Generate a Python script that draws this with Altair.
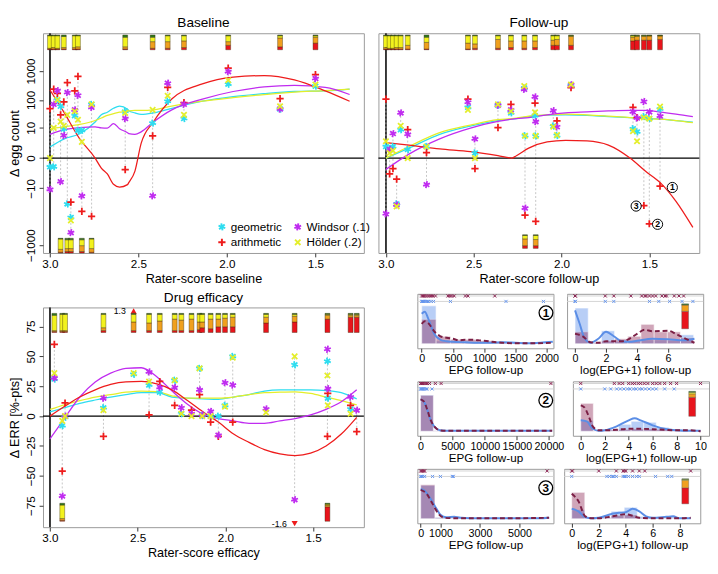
import altair as alt
import pandas as pd

FONT = "Liberation Sans"

METHODS = ["geometric", "arithmetic", "Windsor (.1)", "Hölder (.2)"]
METHOD_COLORS = ["#2EDDF0", "#EE1C1C", "#C02CF0", "#E4EE2A"]
SHAPE_GEO = "M-0.94,-0.34L0.94,0.34M-0.17,-0.98L0.17,0.98M0.77,-0.64L-0.77,0.64"
SHAPE_WIN = "M-0.77,-0.64L0.77,0.64M0.17,-0.98L-0.17,0.98M0.94,-0.34L-0.94,0.34"
SHAPE_ARI = "M-1,0L1,0M0,-1L0,1"
SHAPE_HOL = "M-0.75,-0.75L0.75,0.75M-0.75,0.75L0.75,-0.75"
METHOD_SHAPES = [SHAPE_GEO, SHAPE_ARI, SHAPE_WIN, SHAPE_HOL]
BAR_COLORS = ["#E8141C", "#F0A01E", "#F2F21E", "#2E7D1E"]
X_TICKS = [3.0, 2.5, 2.0, 1.5]
VLINE_X = [3.0]
ZERO_Y = [0]

# ---------------- Baseline ----------------
base_x = [3.000, 2.979, 2.958, 2.940, 2.922, 2.902, 2.882, 2.860, 2.842, 2.820, 2.765,
          2.575, 2.420, 2.335, 2.243, 1.993, 1.700, 1.500]
base_geo = [-1, -1, 100, 60, 9, -37, -110, 28, 8, 8, 70, 40, 15, 90, 22, 350, 48, 300]
base_ari = [50, 235, 170, 30, 85, 400, -32, 205, 650, -67, -100, -1.5, 4.8, 270, 80, 1250, 110, 750]
base_win = [-11, 70, 210, -5.5, 5, 180, -370, 45, 145, -19, 55, 22, -19, 380, 70, 950, 48, 550]
base_hol = [0, 10, 100, 17, 12, 30, -140, 40, 20, 2.6, 70, 35, 45, 140, 30, 480, 60, 340]

base_cx = [3.000, 2.919, 2.832, 2.745, 2.710, 2.676, 2.641, 2.607, 2.562, 2.555, 2.520, 2.485,
           2.416, 2.312, 2.139, 1.965, 1.790, 1.619, 1.445, 1.307]
base_c_ari = [221, 35, 3.6, 0, -1.2, -2.5, -7, -9, -7.2, -6, -1.8, 2.2, 16.5, 107, 360, 615, 694, 494, 206, 90]
base_c_geo = [1.4, 3.6, 5.9, 16.5, 30, 37, 51, 61, 47, 42, 35, 31, 35, 51, 90, 130, 165, 196, 206, 238]
base_c_hol = [9.3, 11, 13.4, 18.7, 23, 28.8, 33, 37, 40, 41, 43, 43, 45, 61, 90, 120, 154, 187, 211, 238]
base_c_win = [5.6, 8.5, 10.3, 11, 10, 9.8, 14.5, 9.3, 6.5, 6.0, 5.6, 7, 16.5, 45, 107, 196, 283, 319, 270, 154]

base_top_x = [3.000, 2.979, 2.958, 2.922, 2.860, 2.842, 2.575, 2.420, 2.335, 2.243, 1.993, 1.700, 1.500]
base_top_red = [0.05, 0.05, 0.05, 0.05, 0.05, 0.05, 0.05, 0.1, 0.1, 0.15, 0.3, 0.2, 0.45]
base_top_orange = [0.05, 0.1, 0.05, 0.1, 0.1, 0.15, 0.15, 0.45, 0.45, 0.45, 0.25, 0.6, 0.4]
base_top_yellow = [0.85, 0.8, 0.85, 0.75, 0.8, 0.75, 0.65, 0.3, 0.4, 0.35, 0.4, 0.15, 0.1]
base_top_green = [0.05, 0.05, 0.05, 0.1, 0.05, 0.05, 0.15, 0.15, 0.05, 0.05, 0.05, 0.05, 0.05]
base_bot_x = [2.940, 2.902, 2.882, 2.820, 2.765]
base_bot_red = [0.05, 0.1, 0.1, 0.1, 0.05]
base_bot_orange = [0.2, 0.2, 0.2, 0.4, 0.25]
base_bot_yellow = [0.7, 0.6, 0.6, 0.4, 0.65]
base_bot_green = [0.05, 0.1, 0.1, 0.1, 0.05]

# ---------------- Follow-up ----------------
fu_x = [3.000, 2.979, 2.960, 2.939, 2.916, 2.876, 2.769, 2.533, 2.493, 2.362, 2.288,
        2.212, 2.208, 2.151, 2.147, 2.047, 2.026, 1.946, 1.593, 1.570, 1.531, 1.500, 1.439]
fu_geo = [1.5, 1.1, 1.5, -37, 8.5, 0.97, 1.5, 55, 0.5, 65, 35, 260, 4.9, 28, 4.8, 11.7, 5, 320, 9.3, 7, 26, 22, 48]
fu_ari = [107, -2.5, -1.3, -4.3, None, 8.5, 0.55, 107, -1.3, 10.2, 70, None, -92, 78, -150, None, 18, 265, 55, 24, -42, -182, -8.3]
fu_win = [-82, 1.0, 6, -40, 35, 5.6, -7.2, 83, 3.6, 65, 45, 232, -52, 127, 17, 42, 11, 335, 38, 23, 88, 38, 27]
fu_hol = [2.8, 0.5, 0.8, -45, 12, 0, 1.5, 45, 0, 70, 40, 300, 4.9, 37, 4.8, 11, 5.2, 340, 7.5, 2.8, 24, 22, 58]

fu_cx = [3.000, 2.869, 2.694, 2.519, 2.362, 2.283, 2.257, 2.187, 2.082, 1.977, 1.855,
         1.733, 1.610, 1.523, 1.435, 1.348, 1.252]
fu_c_ari = [2.4, 1.8, 1.07, 0.66, 0.21, 0, 0.21, 1.2, 2.6, 3.1, 2.9, 1.8, 0, -1.8, -6.3, -30, -244]
fu_c_geo = [0, 1.2, 5.6, 11.7, 18.7, 21, 22, 26, 29.5, 30, 28.8, 26, 24, 22.3, 21, 18.7, 16.5]
fu_c_hol = [0, 1.5, 6.5, 12.7, 20, 22, 23, 27, 30, 32, 30, 27, 24, 22, 21, 18.7, 15.6]
fu_c_win = [-1.45, 0.37, 3.6, 9.8, 17.3, 21, 22, 24, 30, 35, 38, 41, 43, 43, 37, 32, 26]

fu_top_x = [3.000, 2.979, 2.960, 2.939, 2.916, 2.876, 2.769, 2.533, 2.493, 2.362, 2.288,
            2.212, 2.151, 2.047, 2.026, 1.946, 1.593, 1.570, 1.531, 1.500, 1.439]
fu_top_red = [0.05, 0.05, 0.05, 0.05, 0.05, 0.05, 0.05, 0.05, 0.1, 0.1, 0.15, 0.1, 0.15, 0.3, 0.3, 0.3, 0.6, 0.65, 0.65, 0.65, 0.7]
fu_top_orange = [0.1, 0.05, 0.05, 0.1, 0.1, 0.25, 0.45, 0.4, 0.3, 0.6, 0.45, 0.5, 0.45, 0.35, 0.4, 0.6, 0.25, 0.25, 0.25, 0.3, 0.25]
fu_top_yellow = [0.8, 0.85, 0.85, 0.8, 0.8, 0.65, 0.35, 0.5, 0.55, 0.25, 0.35, 0.35, 0.35, 0.3, 0.25, 0.05, 0.1, 0.05, 0.05, 0.0, 0.0]
fu_top_green = [0.05, 0.05, 0.05, 0.05, 0.05, 0.05, 0.15, 0.05, 0.05, 0.05, 0.05, 0.05, 0.05, 0.05, 0.05, 0.05, 0.05, 0.05, 0.05, 0.05, 0.05]
fu_bot_x = [2.208, 2.147]
fu_bot_red = [0.2, 0.2]
fu_bot_orange = [0.5, 0.45]
fu_bot_yellow = [0.25, 0.3]
fu_bot_green = [0.05, 0.05]

fu_lab_x = [1.369, 1.453, 1.575]
fu_lab_y = [-9.3, -190, -44]
fu_lab_text = ["1", "2", "3"]

# ---------------- Drug efficacy ----------------
de_x = [2.975, 2.930, 2.914, 2.695, 2.523, 2.435, 2.374, 2.289, 2.251, 2.193, 2.147, 2.132,
        2.084, 2.040, 2.002, 1.958, 1.768, 1.605, 1.418, 1.416, 1.286, 1.251]
de_geo = [31, -8, -1, 7, 35, 26, 20, 30, 2, None, 40, 0.5, 0, 0, 9, 50, None, 43, 46, 15, 6, None]
de_ari = [60, -46, 11, -17, None, 1, 29, 9, None, 5, 18, None, -5, -17, None, -5, None, None, -17, 19, 9, -13]
de_win = [32, -67, 0, 15, None, 37, 24, 24, 7, 2, 22, 1, 4, -16, 28, 26, 6, -70, 56, 23, 16, 5]
de_hol = [36, -4, 0, 5, 36, 29, None, 30, 2, 0, 40, 0, 0, None, 8, 49, 3, 50, 34, 9, 2, None]

de_cx = [3.0, 2.918, 2.830, 2.742, 2.654, 2.567, 2.479, 2.391, 2.304, 2.216, 2.128, 2.040,
         1.953, 1.865, 1.777, 1.689, 1.602, 1.514, 1.426, 1.339, 1.251]
de_c_ari = [0, 8, 16, 22, 26.5, 28.6, 29, 27, 22, 13, 3.6, -5, -15, -22, -28, -31.6, -33, -31, -25, -15, -1]
de_c_win = [-19, -2, 16, 28.6, 36, 40, 40.5, 33, 21, 10, 1.8, -2, -4, -6, -6, -4, -2, 1, 5.6, 12, 22]
de_c_geo = [3.6, 7, 10.7, 13.5, 16, 18, 19.6, 19.6, 16, 15, 14.5, 14, 16, 18, 21, 22, 22, 22, 21.4, 19.6, 14.5]
de_c_hol = [5.6, 9.5, 13, 16, 18, 20, 21, 20.5, 17, 15, 15, 15, 16, 18, 19.6, 20, 20.4, 19, 16, 13, 9.4]

de_top_x = [2.975, 2.930, 2.914, 2.695, 2.523, 2.435, 2.374, 2.289, 2.251, 2.193, 2.147,
            2.132, 2.084, 2.040, 2.002, 1.958, 1.768, 1.605, 1.418, 1.286, 1.251]
de_top_red = [0.05, 0.05, 0.05, 0.1, 0.1, 0.1, 0.1, 0.1, 0.1, 0.1, 0.15, 0.25, 0.2, 0.3, 0.3, 0.3, 0.5, 0.55, 0.7, 0.8, 0.8]
de_top_orange = [0.05, 0.05, 0.05, 0.15, 0.45, 0.4, 0.5, 0.6, 0.55, 0.6, 0.4, 0.3, 0.5, 0.4, 0.45, 0.5, 0.3, 0.3, 0.2, 0.1, 0.1]
de_top_yellow = [0.8, 0.85, 0.85, 0.7, 0.4, 0.45, 0.35, 0.25, 0.3, 0.25, 0.4, 0.4, 0.25, 0.25, 0.2, 0.15, 0.15, 0.1, 0.05, 0.05, 0.05]
de_top_green = [0.1, 0.05, 0.05, 0.05, 0.05, 0.05, 0.05, 0.05, 0.05, 0.05, 0.05, 0.05, 0.05, 0.05, 0.05, 0.05, 0.05, 0.05, 0.05, 0.05, 0.05]
de_bot_x = [2.930, 1.418]
de_bot_red = [0.05, 0.8]
de_bot_orange = [0.1, 0.1]
de_bot_yellow = [0.75, 0.05]
de_bot_green = [0.1, 0.05]

de_up_x = [2.523]
de_up_y = [88]
de_up_label = ["1.3"]
de_dn_x = [1.605]
de_dn_y = [-90]
de_dn_label = ["-1.6"]

# ---------------- small panels ----------------
p1L_bw = 230
p1L_blue = [0.76, 0.06, 0.03, 0.02, 0.02, 0.03, 0.01, 0.01, 0.02]
p1L_maroon = [0.49, 0.15, 0.09, 0.09, 0.06, 0.03, 0.02, 0.01, 0.01]
p1L_db_x = [0, 50, 100, 150, 200, 300, 400, 500, 700, 900, 1100, 1300, 1500, 1700, 1900, 2100]
p1L_db_y = [0.60, 0.64, 0.52, 0.35, 0.2, 0.08, 0.05, 0.04, 0.03, 0.02, 0.02, 0.03, 0.02, 0.01, 0.02, 0.04]
p1L_dm_x = [0, 50, 100, 200, 300, 400, 500, 600, 700, 800, 900, 1000, 1200, 1500, 1800, 2100]
p1L_dm_y = [0.4, 0.45, 0.42, 0.25, 0.15, 0.12, 0.1, 0.07, 0.08, 0.08, 0.07, 0.06, 0.03, 0.01, 0.01, 0.02]
p1L_rug_m = [0, 20, 40, 60, 90, 120, 150, 180, 220, 420, 450, 480, 520, 700, 740, 1170]
p1L_rug_b = [0, 10, 20, 30, 50, 70, 90, 110, 150, 190, 460, 1350, 1950]

p1R_bw = 0.85
p1R_blue = [0.715, 0.02, 0.26, 0.05, 0.06, 0.08, 0.08, 0.07, 0.18]
p1R_maroon = [0.24, 0.02, 0.06, 0.1, 0.15, 0.39, 0.24, 0.24, 0.12]
p1R_db_x = [0, 0.3, 0.6, 1.0, 1.5, 2.0, 2.5, 3.0, 3.5, 4.0, 5.0, 6.0, 7.0, 7.7]
p1R_db_y = [0.67, 0.4, 0.12, 0.02, 0.1, 0.24, 0.15, 0.05, 0.04, 0.06, 0.1, 0.09, 0.07, 0.1]
p1R_dm_x = [0, 0.5, 1.0, 1.5, 2.0, 3.0, 3.5, 4.0, 4.5, 5.0, 6.0, 6.5, 7.0, 7.7]
p1R_dm_y = [0.2, 0.15, 0.03, 0.02, 0.05, 0.05, 0.1, 0.2, 0.28, 0.25, 0.26, 0.2, 0.12, 0.02]
p1R_rug_m = [0, 0.02, 1.95, 2.5, 3.6, 4.3, 4.5, 4.6, 4.8, 5.0, 5.2, 5.6, 5.8, 5.9, 6.4, 6.7, 7.0]
p1R_rug_b = [0, 0.02, 1.95, 2.5, 4.8, 5.4, 6.1, 6.9, 7.6]

p2L_bw = 2000
p2L_blue = [0.727, 0.01, 0.005, 0, 0, 0, 0, 0, 0, 0.005]
p2L_maroon = [0.72, 0.01, 0.005, 0, 0, 0, 0, 0, 0, 0.005]
p2L_db_x = [0, 500, 1000, 1500, 2000, 2500, 3000, 4000, 6000, 10000, 15000, 20500]
p2L_db_y = [0.64, 0.6, 0.45, 0.25, 0.12, 0.05, 0.02, 0.01, 0.01, 0.01, 0.01, 0.01]
p2L_dm_x = [0, 500, 1000, 1500, 2000, 2500, 3000, 4000, 6000, 10000, 15000, 20500]
p2L_dm_y = [0.64, 0.6, 0.45, 0.25, 0.12, 0.05, 0.02, 0.01, 0.01, 0.01, 0.01, 0.01]
p2L_rug_m = [0, 100, 200, 300, 500, 700, 900, 1100, 1400, 2300, 3200, 20300]
p2L_rug_b = [0, 100, 200, 300, 400, 600, 800, 1000, 1800]

p2R_bw = 1.05
p2R_blue = [0.21, 0.0, 0.03, 0.14, 0.2, 0.18, 0.08, 0.03, 0.01]
p2R_maroon = [0.56, 0.01, 0.03, 0.04, 0.05, 0.05, 0.04, 0.03, 0.02]
p2R_db_x = [0, 0.5, 1, 1.5, 2, 3, 4, 4.5, 5, 6, 7, 8, 9, 10]
p2R_db_y = [0.22, 0.2, 0.05, 0.01, 0.02, 0.1, 0.22, 0.26, 0.22, 0.12, 0.05, 0.02, 0.01, 0.01]
p2R_dm_x = [0, 0.3, 0.7, 1, 1.5, 2, 3, 4, 5, 6, 7, 8, 9, 10]
p2R_dm_y = [0.52, 0.48, 0.28, 0.1, 0.02, 0.02, 0.03, 0.05, 0.05, 0.04, 0.03, 0.02, 0.02, 0.0]
p2R_rug_m = [0, 2.8, 3.2, 3.5, 4.0, 4.3, 4.5, 4.8, 5.0, 5.3, 5.6, 6.0, 6.3, 6.6, 7.0, 7.5, 8.0, 10.0]
p2R_rug_b = [0, 2.0, 2.5, 3.0, 3.3, 3.6, 3.9, 4.1, 4.4, 4.6, 4.9, 5.1, 5.4, 5.7, 6.0, 6.3, 7.0, 7.8]

p3L_bw = 720
p3L_blue = [0.67, 0.03, 0.04, 0.01, 0.005, 0.005, 0.005, 0.005, 0.01]
p3L_maroon = [0.68, 0.02, 0.01, 0.005, 0.005, 0.005, 0.005, 0.005, 0.01]
p3L_db_x = [0, 200, 500, 800, 1000, 1300, 1700, 2000, 3000, 6000, 6500]
p3L_db_y = [0.6, 0.56, 0.4, 0.2, 0.08, 0.03, 0.04, 0.02, 0.01, 0.01, 0.02]
p3L_dm_x = [0, 300, 600, 900, 1200, 2000, 4000, 6500]
p3L_dm_y = [0.58, 0.5, 0.3, 0.1, 0.02, 0.01, 0.01, 0.02]
p3L_rug_m = [0, 50, 100, 150, 200, 6400]
p3L_rug_b = [0, 50, 100, 200, 600, 1000, 1600, 1650]

p3R_bw = 0.97
p3R_blue = [0.18, 0.01, 0.03, 0.15, 0.23, 0.05, 0.02, 0.04, 0.01]
p3R_maroon = [0.53, 0.01, 0.02, 0.07, 0.08, 0.02, 0.01, 0.01, 0.02]
p3R_db_x = [0, 0.5, 1, 1.5, 2, 3, 3.5, 4, 4.5, 5, 5.5, 6, 7, 7.5, 8, 8.8]
p3R_db_y = [0.2, 0.15, 0.03, 0.01, 0.02, 0.1, 0.12, 0.13, 0.2, 0.15, 0.05, 0.02, 0.04, 0.05, 0.01, 0.01]
p3R_dm_x = [0, 0.5, 1, 1.5, 2, 3, 4, 4.5, 5, 6, 8, 8.8]
p3R_dm_y = [0.5, 0.35, 0.05, 0.01, 0.01, 0.05, 0.09, 0.06, 0.02, 0.01, 0.01, 0.02]
p3R_rug_m = [0, 0.05, 2.0, 3.3, 3.8, 3.9, 4.0, 4.5, 5.0, 5.4, 8.8]
p3R_rug_b = [0, 2.6, 2.8, 3.0, 3.1, 3.3, 3.8, 3.9, 4.0, 4.2, 4.5, 4.8, 5.0, 6.2, 7.1, 7.4]

mini_x = [7.1, 9.3, 8.4]
mini_red = [0.70, 0.76, 0.64]
mini_orange = [0.26, 0.14, 0.30]
mini_yellow = [0.0, 0.06, 0.04]
mini_green = [0.04, 0.04, 0.02]

RUG_U = [0.957, 0.848]

# ---------------- helpers ----------------
HEX = dict(zip(METHODS, METHOD_COLORS))


def points_df(xs, geo, ari, win, hol):
    rows = []
    for m, vals in [("geometric", geo), ("arithmetic", ari), ("Windsor (.1)", win), ("Hölder (.2)", hol)]:
        for x, v in zip(xs, vals):
            if v is not None:
                rows.append({"x": x, "val": v, "method": m})
    return pd.DataFrame(rows)


def curves_df(xs, geo, ari, win, hol):
    rows = []
    for m, vals in [("geometric", geo), ("Hölder (.2)", hol), ("Windsor (.1)", win), ("arithmetic", ari)]:
        for x, v in zip(xs, vals):
            rows.append({"x": x, "val": v, "method": m, "hex": HEX[m]})
    return pd.DataFrame(rows)


def bars_df(xs, reds, oranges, yellows, greens, lo, hi):
    rows = []
    for x, r, o, y, g in zip(xs, reds, oranges, yellows, greens):
        fr = [r, o, y, g]
        tot = sum(fr)
        c = 0.0
        for col, f in zip(BAR_COLORS, fr):
            rows.append({"x": x, "b0": lo + (hi - lo) * c / tot, "b1": lo + (hi - lo) * (c + f) / tot, "col": col})
            c += f
    return pd.DataFrame(rows)


LEG = alt.Legend(title=None, orient="none", legendX=178, legendY=193, columns=2,
                 labelFontSize=12, labelFont=FONT, symbolSize=55, symbolStrokeWidth=2,
                 columnPadding=8, rowPadding=0, labelOffset=3)

W, H = 330, 226


def main_panel(title, xtitle, xdom, ysc, yticks, ytitle, show_y, pts, curves, bars, extra, bar_w=5):
    xs = alt.Scale(domain=xdom, reverse=True, nice=False, zero=False)
    xaxis = alt.Axis(values=X_TICKS, format=".1f", title=xtitle, grid=False, domain=False)
    if show_y:
        yaxis = alt.Axis(values=yticks, title=ytitle, grid=False, domain=False, labelAngle=270,
                         labelAlign="center", labelBaseline="bottom", format="d")
    else:
        yaxis = None
    X = alt.X("x:Q", scale=xs, axis=xaxis)
    Y = alt.Y("val:Q", scale=ysc, axis=yaxis)
    layers = [
        alt.Chart(pd.DataFrame({"x": VLINE_X})).mark_rule(color="#333", strokeWidth=2).encode(x=X),
        alt.Chart(pts).mark_rule(strokeDash=[2, 2], color="#b5b5b5", strokeWidth=0.8).encode(
            x=X, y=alt.Y("min(val):Q", scale=ysc, axis=yaxis), y2="max(val):Q"),
        alt.Chart(pd.DataFrame({"val": ZERO_Y})).mark_rule(color="black", strokeWidth=1.4).encode(y=Y),
        alt.Chart(curves).mark_line(strokeWidth=1.3, interpolate="monotone").encode(
            x=X, y=Y, color=alt.Color("hex:N", scale=None), detail="method:N"),
        alt.Chart(pts).mark_point(filled=False, size=55, strokeWidth=1.8, opacity=1).encode(
            x=X, y=Y,
            color=alt.Color("method:N", scale=alt.Scale(domain=METHODS, range=METHOD_COLORS), legend=LEG),
            shape=alt.Shape("method:N", scale=alt.Scale(domain=METHODS, range=METHOD_SHAPES), legend=LEG)),
    ]
    for make in extra:
        layers.extend(make(X, Y))
    inner = alt.layer(*layers)
    barl = alt.Chart(bars).mark_bar(size=bar_w, stroke="#3a2a10", strokeWidth=0.4).encode(
        x=X, y=alt.Y("b0:Q", scale=alt.Scale(domain=[0, 1], nice=False, zero=False), axis=None),
        y2="b1:Q", color=alt.Color("col:N", scale=None))
    return alt.layer(inner, barl).resolve_scale(y="independent").properties(
        width=W, height=H,
        title=alt.TitleParams(title, fontSize=14, fontWeight="normal", offset=2, font=FONT))


SYM = alt.Scale(type="symlog", constant=1, domain=[-1860, 20000], nice=False)
LIN = alt.Scale(domain=[-93, 91], nice=False, zero=False)


def fu_labels(X, Y):
    df = pd.DataFrame({"x": fu_lab_x, "val": fu_lab_y, "t": fu_lab_text})
    return [
        alt.Chart(df).mark_point(shape="circle", size=110, filled=True, fill="white", stroke="black",
                                 strokeWidth=1, opacity=1).encode(x=X, y=Y),
        alt.Chart(df).mark_text(fontSize=9, fontWeight="bold", font=FONT).encode(x=X, y=Y, text="t:N"),
    ]


def de_arrows(X, Y):
    up = pd.DataFrame({"x": de_up_x, "val": de_up_y, "t": de_up_label})
    dn = pd.DataFrame({"x": de_dn_x, "val": de_dn_y, "t": de_dn_label})
    return [
        alt.Chart(up).mark_point(shape="triangle-up", size=40, filled=True, color="#EE1C1C", opacity=1).encode(x=X, y=Y),
        alt.Chart(up).mark_text(align="right", dx=-8, fontSize=9, font=FONT).encode(x=X, y=Y, text="t:N"),
        alt.Chart(dn).mark_point(shape="triangle-down", size=40, filled=True, color="#EE1C1C", opacity=1).encode(x=X, y=Y),
        alt.Chart(dn).mark_text(align="right", dx=-8, fontSize=9, font=FONT).encode(x=X, y=Y, text="t:N"),
    ]


baseline = main_panel(
    "Baseline", "Rater-score baseline", [1.254, 3.012], SYM, [1000, 100, 10, 0, -10, -1000],
    "Δ egg count", True,
    points_df(base_x, base_geo, base_ari, base_win, base_hol),
    curves_df(base_cx, base_c_geo, base_c_ari, base_c_win, base_c_hol),
    pd.concat([bars_df(base_top_x, base_top_red, base_top_orange, base_top_yellow, base_top_green, 0.925, 0.992),
               bars_df(base_bot_x, base_bot_red, base_bot_orange, base_bot_yellow, base_bot_green, 0.0, 0.067)]),
    [])

followup = main_panel(
    "Follow-up", "Rater-score follow-up", [1.243, 3.015], SYM, [], "", False,
    points_df(fu_x, fu_geo, fu_ari, fu_win, fu_hol),
    curves_df(fu_cx, fu_c_geo, fu_c_ari, fu_c_win, fu_c_hol),
    pd.concat([bars_df(fu_top_x, fu_top_red, fu_top_orange, fu_top_yellow, fu_top_green, 0.925, 0.992),
               bars_df(fu_bot_x, fu_bot_red, fu_bot_orange, fu_bot_yellow, fu_bot_green, 0.021, 0.083)]),
    [fu_labels])

drug = main_panel(
    "Drug efficacy", "Rater-score efficacy", [1.238, 3.012], LIN, [-75, -50, -25, 0, 25, 50, 75],
    "Δ ERR [%-pts]", True,
    points_df(de_x, de_geo, de_ari, de_win, de_hol),
    curves_df(de_cx, de_c_geo, de_c_ari, de_c_win, de_c_hol),
    pd.concat([bars_df(de_top_x, de_top_red, de_top_orange, de_top_yellow, de_top_green, 0.886, 0.973),
               bars_df(de_bot_x, de_bot_red, de_bot_orange, de_bot_yellow, de_bot_green, 0.027, 0.109)]),
    [de_arrows])

SW, SH = 140, 56
BLUE = "#6495ED"
MAROON = "#8B2252"


def hist_df(bw, heights):
    return pd.DataFrame({"x": [i * bw for i in range(len(heights))],
                         "x2": [(i + 1) * bw for i in range(len(heights))],
                         "u0": [0] * len(heights), "u": heights})


def small_panel(xdom, xticks, xtitle, bw, hb, hm, dbx, dby, dmx, dmy, rug_m, rug_b, label=None, mini=None):
    xs = alt.Scale(domain=xdom, nice=False, zero=False)
    xaxis = alt.Axis(values=xticks, title=xtitle, grid=False, domain=False, labelFontSize=11,
                     titleFontSize=12, format="d", labelOverlap=False, titlePadding=1, labelPadding=1)
    X = alt.X("x:Q", scale=xs, axis=xaxis)
    ys = alt.Scale(domain=[-0.09, 1.0], nice=False, zero=False)
    Y = alt.Y("u:Q", scale=ys, axis=None)
    layers = [
        alt.Chart(pd.DataFrame({"u": RUG_U})).mark_rule(color="#d4d4d4", strokeWidth=1).encode(y=Y),
        alt.Chart(hist_df(bw, hb)).mark_rect(color=BLUE, opacity=0.45, stroke="white", strokeWidth=0.6).encode(
            x=X, x2="x2:Q", y=alt.Y("u0:Q", scale=ys, axis=None), y2="u:Q"),
        alt.Chart(hist_df(bw, hm)).mark_rect(color=MAROON, opacity=0.4, stroke="white", strokeWidth=0.6).encode(
            x=X, x2="x2:Q", y=alt.Y("u0:Q", scale=ys, axis=None), y2="u:Q"),
        alt.Chart(pd.DataFrame({"x": dbx, "u": dby})).mark_line(color="#5B8EE6", strokeWidth=2,
                                                               interpolate="monotone").encode(x=X, y=Y),
        alt.Chart(pd.DataFrame({"x": dmx, "u": dmy})).mark_line(color="#7B1F45", strokeWidth=2, strokeDash=[5, 3],
                                                               interpolate="monotone").encode(x=X, y=Y),
        alt.Chart(pd.DataFrame({"x": rug_m, "u": [RUG_U[0]] * len(rug_m)})).mark_point(
            shape=SHAPE_HOL, size=18, strokeWidth=1, color=MAROON, filled=False, opacity=1).encode(x=X, y=Y),
        alt.Chart(pd.DataFrame({"x": rug_b, "u": [RUG_U[1]] * len(rug_b)})).mark_point(
            shape=SHAPE_HOL, size=18, strokeWidth=1, color=BLUE, filled=False, opacity=1).encode(x=X, y=Y),
    ]
    if label is not None:
        ldf = pd.DataFrame({"x": [label[0]], "u": [label[1]], "t": [label[2]]})
        layers.append(alt.Chart(ldf).mark_point(shape="circle", size=200, filled=True, fill="white", stroke="black",
                                                strokeWidth=1.3, opacity=1).encode(x=X, y=Y))
        layers.append(alt.Chart(ldf).mark_text(fontSize=12, fontWeight="bold", font=FONT).encode(x=X, y=Y, text="t:N"))
    if mini is not None:
        bdf = bars_df([mini[0]], [mini[1]], [mini[2]], [mini[3]], [mini[4]], 0.3, 0.8).rename(columns={"b0": "u0", "b1": "u"})
        layers.append(alt.Chart(bdf).mark_bar(size=7, stroke="#555", strokeWidth=0.4).encode(
            x=X, y=alt.Y("u0:Q", scale=ys, axis=None), y2="u:Q", color=alt.Color("col:N", scale=None)))
    return alt.layer(*layers).properties(width=SW, height=SH)


p1L = small_panel([-70, 2110], [0, 500, 1000, 1500, 2000], "EPG follow-up", p1L_bw, p1L_blue, p1L_maroon,
                  p1L_db_x, p1L_db_y, p1L_dm_x, p1L_dm_y, p1L_rug_m, p1L_rug_b, label=(1990, 0.62, "1"))
p1R = small_panel([-0.2, 7.95], [0, 2, 4, 6], "log(EPG+1) follow-up", p1R_bw, p1R_blue, p1R_maroon,
                  p1R_db_x, p1R_db_y, p1R_dm_x, p1R_dm_y, p1R_rug_m, p1R_rug_b,
                  mini=(mini_x[0], mini_red[0], mini_orange[0], mini_yellow[0], mini_green[0]))
p2L = small_panel([-500, 20700], [0, 5000, 10000, 15000, 20000], "EPG follow-up", p2L_bw, p2L_blue, p2L_maroon,
                  p2L_db_x, p2L_db_y, p2L_dm_x, p2L_dm_y, p2L_rug_m, p2L_rug_b, label=(19500, 0.62, "2"))
p2R = small_panel([-0.25, 10.3], [0, 2, 4, 6, 8, 10], "log(EPG+1) follow-up", p2R_bw, p2R_blue, p2R_maroon,
                  p2R_db_x, p2R_db_y, p2R_dm_x, p2R_dm_y, p2R_rug_m, p2R_rug_b,
                  mini=(mini_x[1], mini_red[1], mini_orange[1], mini_yellow[1], mini_green[1]))
p3L = small_panel([-170, 6720], [0, 1000, 3000, 5000], "EPG follow-up", p3L_bw, p3L_blue, p3L_maroon,
                  p3L_db_x, p3L_db_y, p3L_dm_x, p3L_dm_y, p3L_rug_m, p3L_rug_b, label=(6330, 0.62, "3"))
p3R = small_panel([-0.2, 9.15], [0, 2, 4, 6, 8], "log(EPG+1) follow-up", p3R_bw, p3R_blue, p3R_maroon,
                  p3R_db_x, p3R_db_y, p3R_dm_x, p3R_dm_y, p3R_rug_m, p3R_rug_b,
                  mini=(mini_x[2], mini_red[2], mini_orange[2], mini_yellow[2], mini_green[2]))

grid = alt.vconcat(alt.hconcat(p1L, p1R, spacing=7), alt.hconcat(p2L, p2R, spacing=7),
                   alt.hconcat(p3L, p3R, spacing=7), spacing=3)
spacer = alt.Chart(pd.DataFrame({"x": [0]})).mark_point(opacity=0).encode(
    x=alt.X("x:Q", axis=None)).properties(width=1, height=1, view=alt.ViewConfig(stroke="transparent"))
small = alt.hconcat(spacer, grid, spacing=34)

leftcol = alt.vconcat(baseline, drug, spacing=4)
rightcol = alt.vconcat(followup, small, spacing=5)

chart = alt.hconcat(leftcol, rightcol, spacing=10).properties(
    padding={"left": 0, "top": 0, "right": 0, "bottom": 0}
).configure(font=FONT).configure_view(stroke="#999", strokeWidth=1).configure_axis(
    labelFontSize=12, titleFontSize=13, tickSize=4, labelPadding=2, titlePadding=3,
    labelColor="black", titleColor="black", tickColor="#333", labelFont=FONT, titleFont=FONT,
    titleFontWeight="normal"
)

chart.save("out.html", embed_options={"renderer": "svg", "actions": False})
